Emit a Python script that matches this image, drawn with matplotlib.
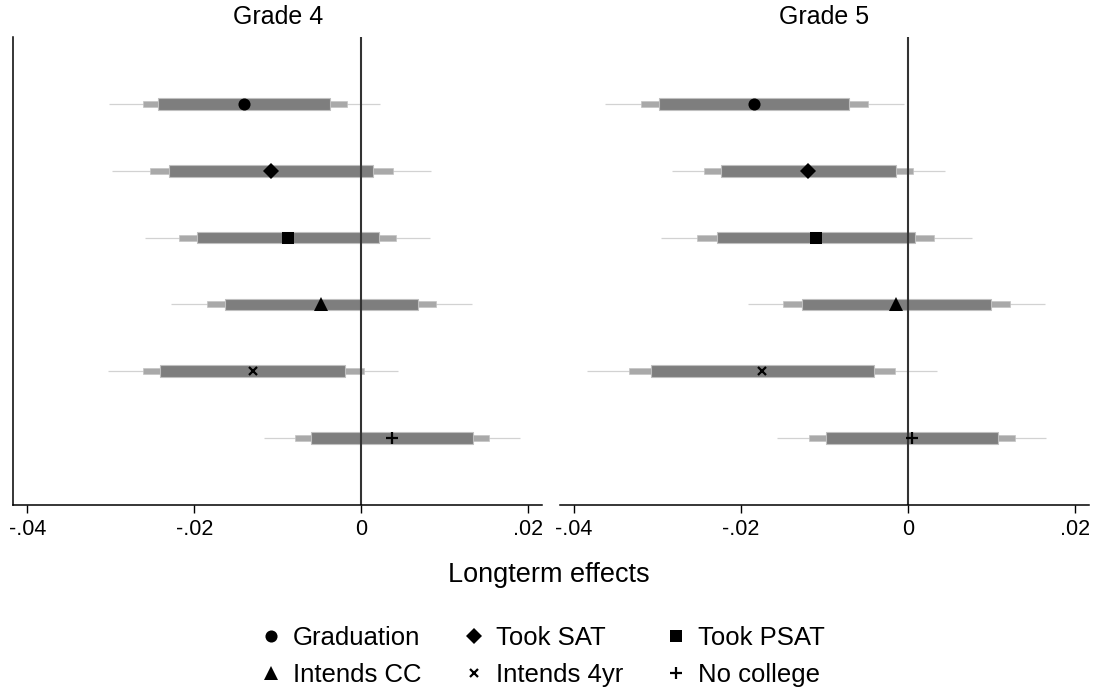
import matplotlib
matplotlib.use("Agg")
import matplotlib.pyplot as plt
from matplotlib.lines import Line2D
import numpy as np

plt.rcParams['font.family'] = ['Liberation Sans', 'DejaVu Sans']

# outcomes, top to bottom
outcomes = ['Graduation', 'Took SAT', 'Took PSAT', 'Intends CC', 'Intends 4yr', 'No college']
markers = ['o', 'D', 's', '^', 'x', '+']
msizes = [8.7, 8.0, 9.0, 10.0, 6.0, 8.0]

# Grade 4 estimates and 99/95/90 intervals
g4_est = [-0.0141, -0.0108, -0.0088, -0.0048, -0.0130, 0.0037]
g4_lo99 = [-0.0302, -0.0299, -0.0259, -0.0228, -0.0304, -0.0116]
g4_hi99 = [0.0022, 0.0084, 0.0082, 0.0133, 0.0044, 0.0190]
g4_lo95 = [-0.0262, -0.0253, -0.0218, -0.0185, -0.0262, -0.0079]
g4_hi95 = [-0.0017, 0.0038, 0.0042, 0.0090, 0.0003, 0.0153]
g4_lo90 = [-0.0243, -0.0230, -0.0197, -0.0163, -0.0241, -0.0060]
g4_hi90 = [-0.0037, 0.0014, 0.0021, 0.0068, -0.0019, 0.0134]

# Grade 5
g5_est = [-0.0184, -0.0119, -0.0110, -0.0014, -0.0175, 0.0005]
g5_lo99 = [-0.0363, -0.0283, -0.0296, -0.0191, -0.0384, -0.0157]
g5_hi99 = [-0.0005, 0.0045, 0.0077, 0.0164, 0.0035, 0.0166]
g5_lo95 = [-0.0320, -0.0244, -0.0252, -0.0149, -0.0334, -0.0118]
g5_hi95 = [-0.0048, 0.0006, 0.0032, 0.0122, -0.0015, 0.0128]
g5_lo90 = [-0.0298, -0.0224, -0.0229, -0.0127, -0.0308, -0.0098]
g5_hi90 = [-0.0070, -0.0014, 0.0009, 0.0100, -0.0041, 0.0108]

xticks = [-0.04, -0.02, 0, 0.02]
xticklabels = ['-.04', '-.02', '0', '.02']

W, H = 1097, 694
fig = plt.figure(figsize=(W/100, H/100), dpi=100)

ax4 = fig.add_axes([13.3/W, 1-505/H, 529/W, 468/H])
ax5 = fig.add_axes([559.8/W, 1-505/H, 529/W, 468/H])

panels = [
    (ax4, 'Grade 4', g4_est, g4_lo99, g4_hi99, g4_lo95, g4_hi95, g4_lo90, g4_hi90),
    (ax5, 'Grade 5', g5_est, g5_lo99, g5_hi99, g5_lo95, g5_hi95, g5_lo90, g5_hi90),
]

ypos = np.arange(1, len(outcomes) + 1)

for ax, title, est, lo99, hi99, lo95, hi95, lo90, hi90 in panels:
    ax.hlines(ypos, lo99, hi99, color='#d2d2d2', lw=0.9, zorder=1)
    ax.barh(ypos, np.array(hi95) - np.array(lo95), left=lo95, height=0.09,
            color='#a9a9a9', edgecolor='#c4c4c4', lw=0.5, zorder=1.5)
    ax.barh(ypos, np.array(hi90) - np.array(lo90), left=lo90, height=0.175,
            color='#7e7e7e', edgecolor='#c0c0c0', lw=0.8, zorder=1.6)
    ax.axvline(0, color='#333333', lw=1.5, zorder=2)
    for i in range(len(outcomes)):
        mew = 1.6 if markers[i] in ('x', '+') else 0
        ax.plot(est[i], ypos[i], marker=markers[i], ms=msizes[i], color='black',
                mew=mew, ls='none', zorder=3)
    ax.set_xlim(-0.0417, 0.0217)
    ax.set_ylim(7, 0)
    ax.set_yticks([])
    ax.set_xticks(xticks)
    ax.set_xticklabels(xticklabels)
    ax.tick_params(axis='x', length=5.8, width=1, labelsize=15.5, pad=4)
    ax.spines['top'].set_visible(False)
    ax.spines['right'].set_visible(False)
    ax.spines['bottom'].set_linewidth(1.1)
    ax.spines['left'].set_linewidth(1.1)
    cx = ax.get_position().x0 + ax.get_position().width / 2
    fig.text(cx, 1 - 17/H, title, ha='center', va='center', fontsize=18)

ax5.spines['left'].set_visible(False)

fig.text(549/W, 1 - 575/H, 'Longterm effects', ha='center', va='center', fontsize=19.5)

handles = []
for i in range(len(outcomes)):
    mew = 1.6 if markers[i] in ('x', '+') else 0
    handles.append(Line2D([], [], marker=markers[i], ms=msizes[i], color='black',
                          mew=mew, ls='none', label=outcomes[i]))
# reorder so ncol=3 fills row-wise
order = [0, 3, 1, 4, 2, 5]
fig.legend([handles[k] for k in order], [outcomes[k] for k in order], ncol=3,
           loc='center', bbox_to_anchor=(543/W, 1 - 656.5/H), frameon=False,
           fontsize=18.5, handlelength=0.8, handletextpad=0.45, columnspacing=1.65,
           labelspacing=0.53, borderpad=0)

fig.savefig('out.png', dpi=100)
